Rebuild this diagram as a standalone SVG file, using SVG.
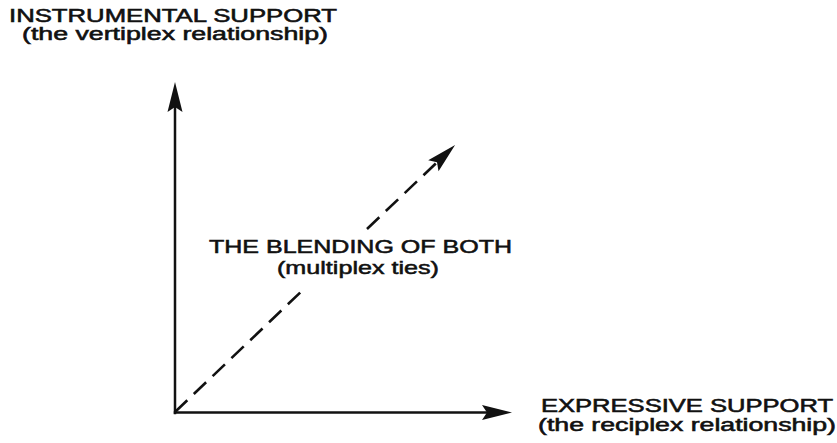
<svg xmlns="http://www.w3.org/2000/svg" width="837" height="443" viewBox="0 0 837 443">
  <style>
    .lbl { font-family: "Liberation Sans", Arial, Helvetica, sans-serif; font-size: 17.5px; fill: #111; stroke: #111; stroke-width: 0.55; }
    .big { font-size: 19px; }
    .axis { stroke: #111; stroke-width: 2.5; fill: none; stroke-linecap: square; }
    .blend { stroke: #111; stroke-width: 2.6; fill: none; stroke-dasharray: 17 9; }
  </style>
  <defs>
    <!-- notched arrowhead; the line ends at the notch, the tip sits 25px further on -->
    <marker id="head" markerUnits="userSpaceOnUse" markerWidth="32" markerHeight="17" refX="5" refY="7.5" orient="auto" overflow="visible">
      <path d="M30,7.5 L0,0 L5,7.5 L0,15 Z" fill="#111"/>
    </marker>
  </defs>

  <rect width="837" height="443" fill="#fff"/>

  <g id="connectors">
    <!-- vertical axis: instrumental support -->
    <path id="axis-y" class="axis" d="M175,413 L175,107" marker-end="url(#head)"/>
    <!-- horizontal axis: expressive support -->
    <path id="axis-x" class="axis" d="M175,412.5 L487,412.5" marker-end="url(#head)"/>
    <!-- dashed diagonal, interrupted by the centre label -->
    <path id="diagonal" class="blend" d="M175,412 L306,287 M367,229 L437,162.3" marker-end="url(#head)"/>
  </g>

  <g id="instrumental">
    <text class="lbl" x="9" y="21.5" textLength="328" lengthAdjust="spacingAndGlyphs">INSTRUMENTAL SUPPORT</text>
    <text class="lbl" x="22" y="40" textLength="306" lengthAdjust="spacingAndGlyphs">(the vertiplex relationship)</text>
  </g>

  <g id="blending">
    <text class="lbl big" x="209" y="253" textLength="303" lengthAdjust="spacingAndGlyphs">THE BLENDING OF BOTH</text>
    <text class="lbl big" x="277" y="274" textLength="162" lengthAdjust="spacingAndGlyphs">(multiplex ties)</text>
  </g>

  <g id="expressive">
    <text class="lbl" x="541" y="411.5" textLength="292" lengthAdjust="spacingAndGlyphs">EXPRESSIVE SUPPORT</text>
    <text class="lbl" x="538" y="430.5" textLength="298" lengthAdjust="spacingAndGlyphs">(the reciplex relationship)</text>
  </g>
</svg>
